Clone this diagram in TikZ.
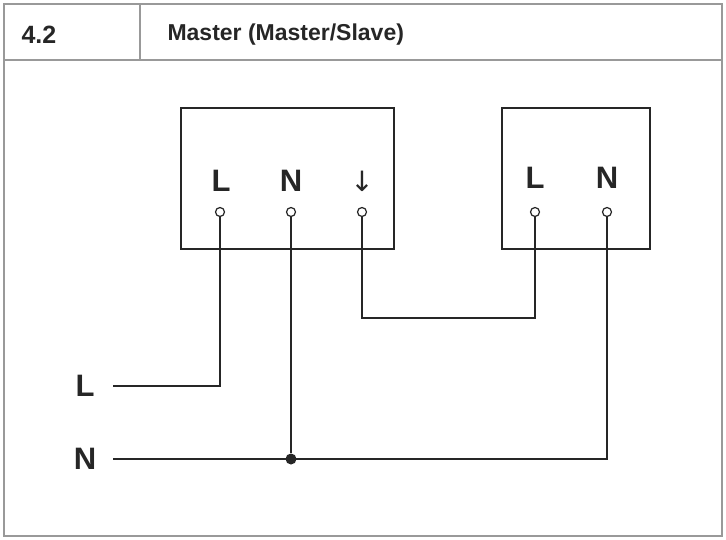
\documentclass[tikz,border=0pt]{standalone}
\usepackage{fontspec}
\setmainfont{Liberation Sans}
\newfontfamily\arrowfont{DejaVu Sans}
\begin{document}
\begin{tikzpicture}[x=1pt,y=-1pt,
  frame/.style={draw=black!40,line width=2.5pt},
  box/.style={draw=black!85,line width=1.3pt},
  wire/.style={draw=black!85,line width=1.3pt},
  term/.style={circle,draw=black!85,line width=1.2pt,fill=white,inner sep=0pt,minimum size=9pt},
  lab/.style={font=\fontsize{31}{31}\selectfont\bfseries,text=black!85},
  dot/.style={circle,fill=black!85,inner sep=0pt,minimum size=11pt}]
\useasboundingbox (0,0) rectangle (726,540);
\draw[frame] (4,4) rectangle (722,536);
\draw[frame] (4,60) -- (722,60);
\draw[frame] (140,4) -- (140,60);
\node[anchor=west,font=\fontsize{25}{25}\selectfont\bfseries,text=black!85] (num) at (18,35) {4.2};
\node[anchor=west,font=\fontsize{23}{23}\selectfont\bfseries,text=black!85] (title) at (164,35) {Master (Master/Slave)};
\node[box,minimum width=213pt,minimum height=141pt,inner sep=0pt] (master) at (287.5,178.5) {};
\node[box,minimum width=148pt,minimum height=141pt,inner sep=0pt] (slave) at (576,178.5) {};
\node[lab] (ml) at (221,181) {L};
\node[lab] (mn) at (291,181) {N};
\node[lab,font=\fontsize{28}{28}\selectfont\arrowfont] (ma) at (362,181) {↓};
\node[lab] (sl) at (535,178) {L};
\node[lab] (sn) at (607,178) {N};
\node[term] (t1) at (220,212) {};
\node[term] (t2) at (291,212) {};
\node[term] (t3) at (362,212) {};
\node[term] (t4) at (535,212) {};
\node[term] (t5) at (607,212) {};
\node[lab] (inL) at (85,386) {L};
\node[lab] (inN) at (85,459) {N};
\node[dot] (j) at (291,459) {};
\coordinate (lend) at (113,386);
\coordinate (nend) at (113,459);
\draw[wire] (t1) |- (lend);
\draw[wire] (t2) -- (j);
\draw[wire] (nend) -| (t5);
\draw[wire] (t3) |- (448,318) -| (t4);
\end{tikzpicture}
\end{document}
